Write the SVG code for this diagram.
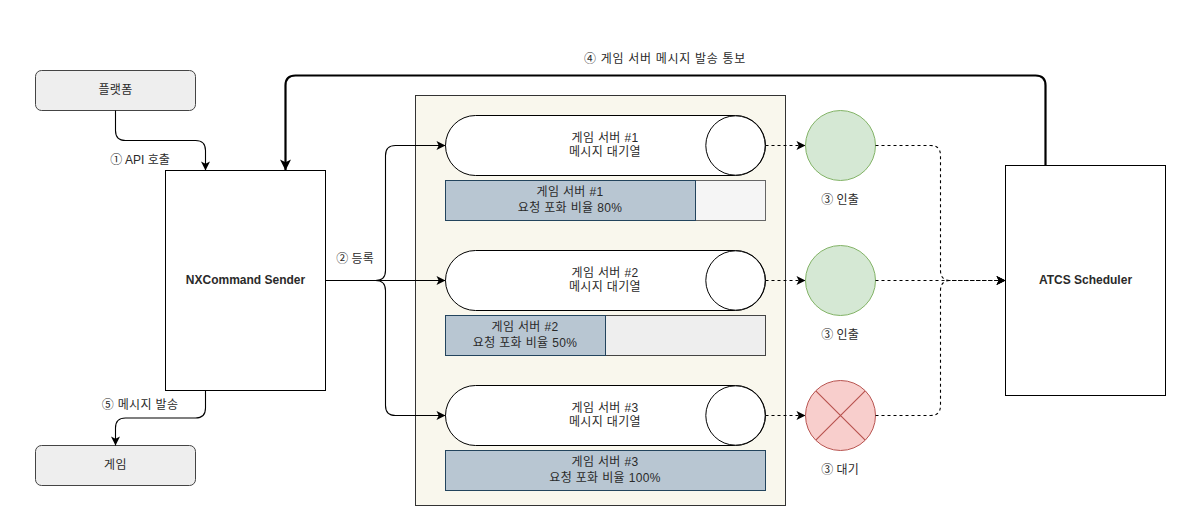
<svg xmlns="http://www.w3.org/2000/svg" width="1201" height="531" viewBox="0 0 1201 531">
<defs>
<marker id="a" markerUnits="userSpaceOnUse" markerWidth="12" markerHeight="12" refX="10" refY="6" orient="auto"><path d="M1,1.5 L10,6 L1,10.5 L3.2,6 Z" fill="#000"/></marker>
<marker id="b" markerUnits="userSpaceOnUse" markerWidth="14" markerHeight="14" refX="12" refY="7" orient="auto"><path d="M1,1.5 L12,7 L1,12.5 L3.7,7 Z" fill="#000"/></marker>
</defs>
<style>
text{font-family:"Liberation Sans","Noto Sans CJK KR",sans-serif;font-size:12px;fill:#2a2a2a;text-anchor:middle}
.k{letter-spacing:.35px}
.w{letter-spacing:.7px}
.b{font-weight:bold}
.s{stroke:#000;stroke-width:1;fill:#fff}
.g{fill:#eee;stroke:#444;stroke-width:1}
.e{fill:none;stroke:#000;stroke-width:1.1}
.d{stroke-dasharray:3 3}
.fill{fill:#b8c6d2;stroke:#23445d;stroke-width:1}
.ok{fill:#d5e8d4;stroke:#82b366;stroke-width:1}
</style>
<rect id="panel" x="415.5" y="95.5" width="370" height="410" fill="#f9f7ed" stroke="#333" stroke-width="1"/>
<g id="platform"><rect class="g" x="35.5" y="70.5" width="160" height="40" rx="6"/><text class="k" x="115.5" y="94">플랫폼</text></g>
<g id="game"><rect class="g" x="35.5" y="445.5" width="160" height="40" rx="6"/><text class="k" x="115.5" y="469">게임</text></g>
<g id="sender"><rect class="s" x="165.5" y="170.5" width="160" height="220"/><text class="b" x="245.5" y="284">NXCommand Sender</text></g>
<g id="scheduler"><rect class="s" x="1005.5" y="165.5" width="160" height="230"/><text class="b" x="1085.5" y="284">ATCS Scheduler</text></g>
<g id="queue1"><rect class="s" x="445.5" y="115.5" width="320" height="60" rx="30"/><circle class="s" cx="735.5" cy="145.5" r="29.7"/><text class="k" x="605" y="142">게임 서버 #1</text><text class="k" x="605" y="156">메시지 대기열</text></g>
<g id="queue2"><rect class="s" x="445.5" y="250.5" width="320" height="60" rx="30"/><circle class="s" cx="735.5" cy="280.5" r="29.7"/><text class="k" x="605" y="277">게임 서버 #2</text><text class="k" x="605" y="291">메시지 대기열</text></g>
<g id="queue3"><rect class="s" x="445.5" y="385.5" width="320" height="60" rx="30"/><circle class="s" cx="735.5" cy="415.5" r="29.7"/><text class="k" x="605" y="412">게임 서버 #3</text><text class="k" x="605" y="426">메시지 대기열</text></g>
<g id="bar1"><rect x="445.5" y="180.5" width="320" height="40" fill="#f5f5f5" stroke="#666"/><rect class="fill" x="445.5" y="180.5" width="250" height="40"/><text class="k" x="570" y="196">게임 서버 #1</text><text class="k" x="570" y="212">요청 포화 비율 80%</text></g>
<g id="bar2"><rect x="445.5" y="315.5" width="320" height="40" fill="#eee" stroke="#444"/><rect class="fill" x="445.5" y="315.5" width="160" height="40"/><text class="k" x="525" y="331">게임 서버 #2</text><text class="k" x="525" y="347">요청 포화 비율 50%</text></g>
<g id="bar3"><rect class="fill" x="445.5" y="450.5" width="320" height="40"/><text class="k" x="605" y="466">게임 서버 #3</text><text class="k" x="605" y="482">요청 포화 비율 100%</text></g>
<g id="pull1"><circle class="ok" cx="840.5" cy="145.5" r="35"/><text x="840" y="204">③ 인출</text></g>
<g id="pull2"><circle class="ok" cx="840.5" cy="280.5" r="35"/><text x="840" y="339">③ 인출</text></g>
<g id="wait3"><circle cx="840.5" cy="415.5" r="35" fill="#f8cecc" stroke="#b85450"/><path d="M815.8,390.8 L865.2,440.2 M815.8,440.2 L865.2,390.8" stroke="#b85450" stroke-width="1.2" fill="none"/><text x="840" y="474">③ 대기</text></g>
<g id="connectors">
<path class="e" marker-end="url(#a)" d="M115.5,110.5 V130.5 Q115.5,140.5 125.5,140.5 H195.5 Q205.5,140.5 205.5,150.5 V170.5"/>
<path class="e" marker-end="url(#a)" d="M205.5,390.5 V408 Q205.5,418 195.5,418 H125.5 Q115.5,418 115.5,428 V445.5"/>
<path class="e" style="stroke-width:2.2" marker-end="url(#b)" d="M1045.5,165.5 V85.5 Q1045.5,75.5 1035.5,75.5 H295.5 Q285.5,75.5 285.5,85.5 V170.5"/>
<path class="e" marker-end="url(#a)" d="M325.5,280.5 H375.5 Q385.5,280.5 385.5,270.5 V155.5 Q385.5,145.5 395.5,145.5 H445.5"/>
<path class="e" marker-end="url(#a)" d="M325.5,280.5 H445.5"/>
<path class="e" marker-end="url(#a)" d="M325.5,280.5 H375.5 Q385.5,280.5 385.5,290.5 V405.5 Q385.5,415.5 395.5,415.5 H445.5"/>
<path class="e d" marker-end="url(#a)" d="M765.5,145.5 H805.5"/>
<path class="e d" marker-end="url(#a)" d="M765.5,280.5 H805.5"/>
<path class="e d" marker-end="url(#a)" d="M765.5,415.5 H805.5"/>
<path class="e d" marker-end="url(#a)" d="M875.5,145.5 H930.5 Q940.5,145.5 940.5,155.5 V270.5 Q940.5,280.5 950.5,280.5 H1005.5"/>
<path class="e d" marker-end="url(#a)" d="M875.5,280.5 H1005.5"/>
<path class="e d" marker-end="url(#a)" d="M875.5,415.5 H930.5 Q940.5,415.5 940.5,405.5 V290.5 Q940.5,280.5 950.5,280.5 H1005.5"/>
</g>
<g id="labels">
<text x="140" y="164">① API 호출</text>
<text x="355" y="263">② 등록</text>
<text class="w" x="665" y="63">④ 게임 서버 메시지 발송 통보</text>
<text class="k" x="140" y="409">⑤ 메시지 발송</text>
</g>
</svg>
